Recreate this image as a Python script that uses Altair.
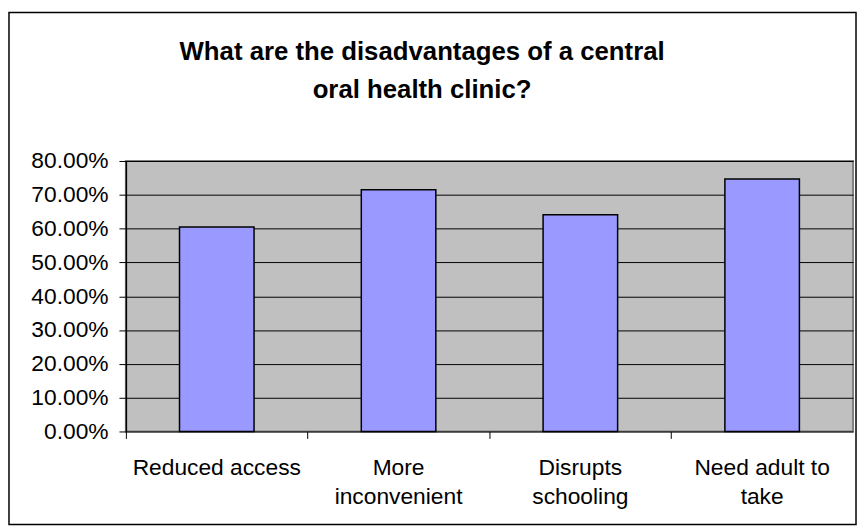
import altair as alt
import pandas as pd

categories = ["Reduced access", "More inconvenient", "Disrupts schooling", "Need adult to take"]
label_lines = [["Reduced access"], ["More", "inconvenient"], ["Disrupts", "schooling"], ["Need adult to", "take"]]
values = [0.605, 0.715, 0.641, 0.747]
title_lines = ["What are the disadvantages of a central", "oral health clinic?"]
y_ticks = [0, 0.1, 0.2, 0.3, 0.4, 0.5, 0.6, 0.7, 0.8]

df = pd.DataFrame({"cat": categories, "val": values})

label_expr = (
    "{" + ",".join(f"'{c}': {l!r}" for c, l in zip(categories, label_lines)) + "}[datum.value]"
)

FONT = "Liberation Sans"
W, H = 734, 273

bars = alt.Chart(df).mark_bar(
    fill="#9999FF", stroke="#000000", strokeWidth=1.5,
    width=alt.RelativeBandSize(0.41),
).encode(
    x=alt.X("cat:N", sort=categories,
            scale=alt.Scale(paddingInner=0, paddingOuter=0),
            axis=alt.Axis(title=None, labelAngle=0, bandPosition=0,
                          labelExpr=label_expr, labelFont=FONT, labelFontSize=23,
                          labelColor="#000000", labelPadding=18, labelLineHeight=30,
                          tickColor="#000000", tickSize=7, domain=False,
                          labelBaseline="top", grid=False)),
    y=alt.Y("val:Q", scale=alt.Scale(domain=[0, 0.8], nice=False),
            axis=alt.Axis(title=None, format=".2%", values=y_ticks,
                          labelFont=FONT, labelFontSize=23, labelColor="#000000",
                          labelPadding=11, tickColor="#000000", tickSize=7,
                          domainColor="#000000", domainWidth=1.5,
                          grid=True, gridColor="#000000", gridWidth=1,
                          gridOpacity=1)),
)

frame = alt.Chart(alt.Data(values=[{}])).mark_rect(
    fill=None, stroke="#000000", strokeWidth=1.5, clip=False
).encode(
    x=alt.value(-118), x2=alt.value(W + 3),
    y=alt.value(-150), y2=alt.value(H + 94),
)

title = alt.Chart(alt.Data(values=[{}])).mark_text(
    text=title_lines, font=FONT, fontSize=26, fontWeight="bold",
    color="#000000", align="center", baseline="alphabetic", lineHeight=38,
).encode(
    x=alt.value(W / 2 - 68), y=alt.value(-102),
)

chart = alt.layer(frame, title, bars).properties(
    width=W, height=H,
    padding={"left": 119, "top": 152, "right": 4, "bottom": 95},
    autosize=alt.AutoSizeParams(type="none"),
).configure(background="#FFFFFF").configure_view(
    fill="#C0C0C0", stroke="#808080", strokeWidth=2,
)

chart.save("out.html", embed_options={"renderer": "svg", "actions": False})
